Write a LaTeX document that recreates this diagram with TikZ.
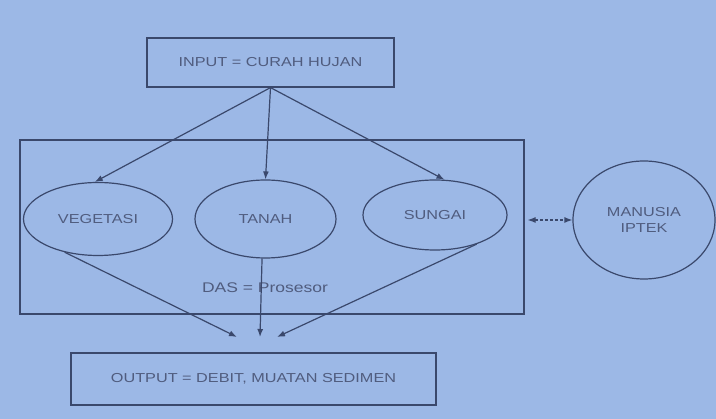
\documentclass[tikz,border=0pt]{standalone}
\usepackage{fontspec}
\usetikzlibrary{shapes.geometric,arrows.meta}
\newfontfamily\diafont[FakeStretch=1.25]{Liberation Sans}

\definecolor{PaperBg}{RGB}{156,184,230}
\definecolor{InkLine}{RGB}{58,72,108}
\definecolor{InkText}{RGB}{80,92,126}

\begin{document}
\begin{tikzpicture}[x=1pt, y=-1pt,
    box/.style={draw=InkLine, line width=1.2pt, inner sep=0pt, align=center, text=InkText, font=\diafont\fontsize{13}{15}\selectfont},
    oval/.style={box, ellipse},
    flow/.style={draw=InkLine, line width=1.2pt, -{Latex[length=8pt,width=6pt]}},
    label/.style={text=InkText, font=\diafont\fontsize{14}{16}\selectfont}
  ]
    \fill[PaperBg] (0,0) rectangle (716,419);
    \useasboundingbox (0,0) rectangle (716,419);

    % Input
    \node[box, minimum width=247pt, minimum height=49pt] (input) at (270.5,62.5) {INPUT = CURAH HUJAN};

    % DAS
    \node[box, minimum width=504pt, minimum height=174pt] (das) at (272,227) {};
    \node[oval, minimum width=149pt, minimum height=73pt] (veg) at (98,219) {VEGETASI};
    \node[oval, minimum width=141pt, minimum height=78pt] (tanah) at (265.5,219) {TANAH};
    \node[oval, minimum width=144pt, minimum height=70pt] (sungai) at (435,215) {SUNGAI};
    \node[label] (proc) at (265,288) {DAS = Prosesor};

    % Manusia
    \node[oval, minimum width=142pt, minimum height=118pt] (manusia) at (644,220) {MANUSIA\\[1pt]IPTEK};

    % Output
    \node[box, minimum width=365pt, minimum height=52pt] (output) at (253.5,379) {OUTPUT = DEBIT, MUATAN SEDIMEN};
    \coordinate (dropL) at (237,337);
    \coordinate (dropM) at (260,337);
    \coordinate (dropR) at (277,337);

    \draw[flow] (input.south) -- (veg.95);
    \draw[flow] (input.south) -- (tanah.north);
    \draw[flow] (input.south) -- (sungai.75);

    \draw[flow] (veg.225) -- (dropL);
    \draw[flow] (tanah.265 |- tanah.south) -- (dropM);
    \draw[flow] (sungai.-35) -- (dropR);

    \draw[flow, {Latex[length=8pt,width=6pt]}-{Latex[length=8pt,width=6pt]}, dash pattern=on 3pt off 2pt] ([xshift=3pt]das.east |- manusia.west) -- (manusia.west);
  \end{tikzpicture}
\end{document}
